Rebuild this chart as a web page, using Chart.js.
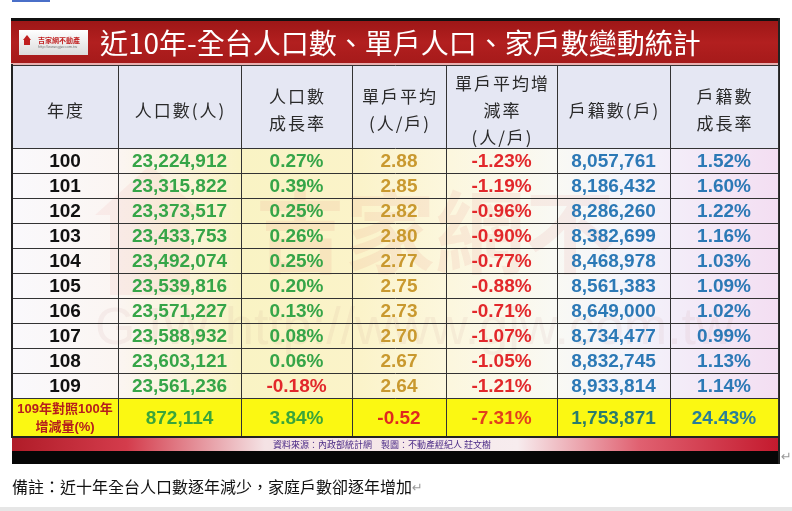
<!DOCTYPE html>
<html><head><meta charset="utf-8">
<script src="https://cdn.jsdelivr.net/npm/chart.js@4.4.1/dist/chart.umd.min.js"></script>
<style>
html,body{margin:0;padding:0;background:#fff;width:792px;height:511px;overflow:hidden}
#wrap{position:absolute;left:0;top:0;width:792px;height:511px}
</style>
</head><body><div id="wrap"><canvas id="c" width="792" height="511"></canvas></div>
<script>
// ---------------- data ----------------
const title = '近10年-全台人口數、單戶人口、家戶數變動統計';
const headers = [['年度'], ['人口數(人)'], ['人口數', '成長率'], ['單戶平均', '(人/戶)'], ['單戶平均增', '減率', '(人/戶)'], ['戶籍數(戶)'], ['戶籍數', '成長率']];
const years = ['100', '101', '102', '103', '104', '105', '106', '107', '108', '109'];
const population = [23224912, 23315822, 23373517, 23433753, 23492074, 23539816, 23571227, 23588932, 23603121, 23561236];
const popGrowth = [0.27, 0.39, 0.25, 0.26, 0.25, 0.20, 0.13, 0.08, 0.06, -0.18];
const perHousehold = [2.88, 2.85, 2.82, 2.80, 2.77, 2.75, 2.73, 2.70, 2.67, 2.64];
const perHouseholdChange = [-1.23, -1.19, -0.96, -0.90, -0.77, -0.88, -0.71, -1.07, -1.05, -1.21];
const households = [8057761, 8186432, 8286260, 8382699, 8468978, 8561383, 8649000, 8734477, 8832745, 8933814];
const householdGrowth = [1.52, 1.60, 1.22, 1.16, 1.03, 1.09, 1.02, 0.99, 1.13, 1.14];
const summaryLabel = ['109年對照100年', '增減量(%)'];
const summary = [872114, 3.84, -0.52, -7.31, 1753871, 24.43];
const sourceNote = '資料來源：內政部統計網　製圖：不動產經紀人 莊文樹';
const remark = '備註：近十年全台人口數逐年減少，家庭戶數卻逐年增加';
const logoName = '吉家網不動產';
const logoUrl = 'http://www.gjw.com.tw';

// ---------------- layout / style ----------------
const COL_W = [106, 123, 111, 94, 111, 113, 108];
const HEAD_H = 83, ROW_H = 25, SUM_H = 39;
const colEdges = [0]; COL_W.forEach(w => colEdges.push(colEdges[colEdges.length - 1] + w));
const rowEdges = [0, HEAD_H]; years.forEach(() => rowEdges.push(rowEdges[rowEdges.length - 1] + ROW_H)); rowEdges.push(rowEdges[rowEdges.length - 1] + SUM_H);
const colMid = c => (colEdges[c] + colEdges[c + 1]) / 2;
const rowMid = r => (rowEdges[r] + rowEdges[r + 1]) / 2;

const RED = '#e2282b', GREEN = '#36a548', GOLD = '#c9992f', BLUE = '#2c79b6';
const colColors = ['#111111', GREEN, GREEN, GOLD, RED, BLUE, BLUE];
const sumColors = ['#b51d1d', '#3aa53a', '#3aa53a', '#e0281f', '#e2401c', '#2a7c6c', '#2a7e98'];
const NUM_FONT = 'bold 19px "Liberation Sans", Arial, sans-serif';
const CJK = '"Noto Sans CJK TC", "Noto Sans CJK SC", sans-serif';

const fmtInt = v => v.toLocaleString('en-US');
const fmtPct = v => v.toFixed(2) + '%';

const columns = [
  years,
  population.map(fmtInt),
  popGrowth.map(fmtPct),
  perHousehold.map(v => v.toFixed(2)),
  perHouseholdChange.map(fmtPct),
  households.map(fmtInt),
  householdGrowth.map(fmtPct)
];
const rawCols = [null, population, popGrowth, perHousehold, perHouseholdChange, households, householdGrowth];
const summaryText = [null, fmtInt(summary[0]), fmtPct(summary[1]), summary[2].toFixed(2), fmtPct(summary[3]), fmtInt(summary[4]), fmtPct(summary[5])];

const datasets = columns.map((col, c) => {
  const pts = col.map((t, i) => ({
    x: colMid(c), y: rowMid(i + 1), t,
    color: (c === 2 && rawCols[c][i] < 0) ? RED : colColors[c]
  }));
  if (c > 0) pts.push({ x: colMid(c), y: rowMid(years.length + 1), t: summaryText[c], color: sumColors[c] });
  return { label: headers[c].join(''), data: pts, pointRadius: 0, pointHoverRadius: 0, showLine: false };
});

const tablePlugin = {
  id: 'tablePlugin',
  beforeDraw(chart) {
    const ctx = chart.ctx, xs = chart.scales.x, ys = chart.scales.y;
    const X = v => xs.getPixelForValue(v), Y = v => ys.getPixelForValue(v);
    const L = X(0), R = X(colEdges[colEdges.length - 1]);
    ctx.save();
    // top cut-off line
    ctx.fillStyle = '#4a6fc8'; ctx.fillRect(12, 0, 38, 2);
    // title bar
    ctx.fillStyle = '#111'; ctx.fillRect(L - 1, 18, R - L + 3, 4);
    let g = ctx.createLinearGradient(0, 21, 0, 64);
    g.addColorStop(0, '#9e1717'); g.addColorStop(0.5, '#b21f1f'); g.addColorStop(1, '#a51a1a');
    ctx.fillStyle = g; ctx.fillRect(L - 1, 21, R - L + 2, 43);
    ctx.fillStyle = '#e8b0b0'; ctx.fillRect(L - 1, 63, R - L + 2, 2);
    // logo
    g = ctx.createLinearGradient(0, 30, 0, 55);
    g.addColorStop(0, '#ffffff'); g.addColorStop(1, '#dcdcdc');
    ctx.fillStyle = g; ctx.fillRect(19, 30, 69, 25);
    ctx.fillStyle = '#c02020';
    ctx.beginPath(); ctx.moveTo(23, 40); ctx.lineTo(27, 35); ctx.lineTo(31, 40); ctx.closePath(); ctx.fill();
    ctx.fillRect(24, 40, 6, 5);
    ctx.font = 'bold 7px ' + CJK; ctx.textBaseline = 'middle'; ctx.textAlign = 'left';
    ctx.fillText(logoName, 38, 40);
    ctx.fillStyle = '#777'; ctx.font = '4px "Liberation Sans"';
    ctx.fillText(logoUrl, 38, 47);
    // title text
    ctx.fillStyle = '#ffffff'; ctx.font = '400 28px ' + CJK;
    ctx.fillText(title, 100, 43);
    // header background
    ctx.fillStyle = '#e5e7f3';
    ctx.fillRect(L, Y(0), R - L, Y(HEAD_H) - Y(0));
    // data background gradient
    g = ctx.createLinearGradient(L, 0, R, 0);
    g.addColorStop(0, '#faf9fc'); g.addColorStop(0.138, '#fbf5f2'); g.addColorStop(0.3, '#f9f3c4');
    g.addColorStop(0.45, '#fbf3c9'); g.addColorStop(0.57, '#fcf7de'); g.addColorStop(0.71, '#f9f9f4');
    g.addColorStop(0.8, '#f3f4fb'); g.addColorStop(1, '#f3def2');
    ctx.fillStyle = g;
    ctx.fillRect(L, Y(HEAD_H), R - L, Y(rowEdges[rowEdges.length - 2]) - Y(HEAD_H));
    // summary row
    ctx.fillStyle = '#fbf812';
    ctx.fillRect(L, Y(rowEdges[rowEdges.length - 2]), R - L, Y(rowEdges[rowEdges.length - 1]) - Y(rowEdges[rowEdges.length - 2]));
    // watermark
    ctx.save();
    ctx.beginPath(); ctx.rect(L, Y(HEAD_H), R - L, Y(rowEdges[rowEdges.length - 2]) - Y(HEAD_H)); ctx.clip();
    ctx.fillStyle = 'rgba(215,60,60,0.07)';
    ctx.font = 'bold 90px ' + CJK; ctx.textAlign = 'left'; ctx.textBaseline = 'middle';
    ctx.fillText(logoName.slice(0, 4), 255, 232);
    ctx.fillStyle = 'rgba(215,60,60,0.06)';
    ctx.beginPath(); ctx.moveTo(95, 215); ctx.lineTo(150, 165); ctx.lineTo(205, 215); ctx.closePath(); ctx.fill();
    ctx.fillRect(110, 215, 80, 80);
    ctx.fillStyle = 'rgba(180,120,120,0.08)';
    ctx.font = '52px "Liberation Sans"';
    ctx.fillText('GJW http://www.gjw.com.tw', 95, 330);
    ctx.restore();
    // footer band
    const fb = Y(rowEdges[rowEdges.length - 1]);
    g = ctx.createLinearGradient(L, 0, R, 0);
    g.addColorStop(0, '#b01c28'); g.addColorStop(0.15, '#d43c4c'); g.addColorStop(0.33, '#f4e2e4');
    g.addColorStop(0.66, '#f7ecee'); g.addColorStop(0.82, '#e06070'); g.addColorStop(1, '#c41a2e');
    ctx.fillStyle = g; ctx.fillRect(L, fb, R - L, 14);
    ctx.fillStyle = '#4a2a86'; ctx.font = '9px ' + CJK; ctx.textAlign = 'center';
    ctx.fillText(sourceNote, 382, fb + 8);
    ctx.fillStyle = '#060606'; ctx.fillRect(L, fb + 14, R - L + 2, 13);
    // frame right edge
    ctx.fillStyle = '#222'; ctx.fillRect(R, 18, 2, fb + 27 - 18);
    // return marks + remark
    ctx.fillStyle = '#9a9a9a'; ctx.font = '13px "DejaVu Sans"'; ctx.textAlign = 'left';
    ctx.fillText('↵', R + 3, fb + 21);
    ctx.fillStyle = '#111'; ctx.font = '16px ' + CJK;
    ctx.fillText(remark, 12, 487);
    const rw = ctx.measureText(remark).width;
    ctx.fillStyle = '#9a9a9a'; ctx.font = '13px "DejaVu Sans"';
    ctx.fillText('↵', 12 + rw, 489);
    ctx.fillStyle = '#e6e6e6'; ctx.fillRect(0, 507, 792, 4);
    ctx.restore();
  },
  afterDatasetsDraw(chart) {
    const ctx = chart.ctx, xs = chart.scales.x, ys = chart.scales.y;
    ctx.save();
    ctx.textAlign = 'center'; ctx.textBaseline = 'middle';
    // headers
    ctx.fillStyle = '#2a2a2a'; ctx.font = '17px ' + CJK;
    try { ctx.letterSpacing = '2px'; } catch (e) {}
    headers.forEach((lines, c) => {
      const cx = xs.getPixelForValue(colMid(c)) + 1;
      const cy = ys.getPixelForValue(rowMid(0)) + 4;
      const n = lines.length;
      lines.forEach((s, k) => ctx.fillText(s, cx, cy + (k - (n - 1) / 2) * 27));
    });
    try { ctx.letterSpacing = '0px'; } catch (e) {}
    // cells
    ctx.font = NUM_FONT;
    chart.data.datasets.forEach((ds, di) => {
      const meta = chart.getDatasetMeta(di);
      meta.data.forEach((el, j) => {
        const raw = ds.data[j];
        ctx.fillStyle = raw.color;
        ctx.fillText(raw.t, el.x, el.y + 1.5);
      });
    });
    // summary label
    ctx.fillStyle = sumColors[0];
    ctx.font = 'bold 13px "Liberation Sans", ' + CJK;
    const sx = xs.getPixelForValue(colMid(0)), sy = ys.getPixelForValue(rowMid(years.length + 1));
    ctx.fillText(summaryLabel[0], sx, sy - 8);
    ctx.fillText(summaryLabel[1], sx, sy + 10);
    ctx.restore();
  }
};

const gridOpts = { color: '#333333', lineWidth: 1, drawTicks: false };
new Chart(document.getElementById('c'), {
  type: 'scatter',
  data: { datasets },
  options: {
    responsive: false, animation: false, events: [],
    layout: { padding: { left: 12, right: 14, top: 65, bottom: 74 } },
    plugins: { legend: { display: false }, tooltip: { enabled: false }, title: { display: false } },
    scales: {
      x: {
        type: 'linear', min: 0, max: colEdges[colEdges.length - 1],
        afterBuildTicks: s => { s.ticks = colEdges.map(v => ({ value: v })); },
        ticks: { display: false }, grid: gridOpts, border: { display: true, color: '#222', width: 2 }
      },
      y: {
        type: 'linear', reverse: true, min: 0, max: rowEdges[rowEdges.length - 1],
        afterBuildTicks: s => { s.ticks = rowEdges.map(v => ({ value: v })); },
        ticks: { display: false }, grid: gridOpts, border: { display: true, color: '#222', width: 2 }
      }
    }
  },
  plugins: [tablePlugin]
});
</script>
</body></html>
